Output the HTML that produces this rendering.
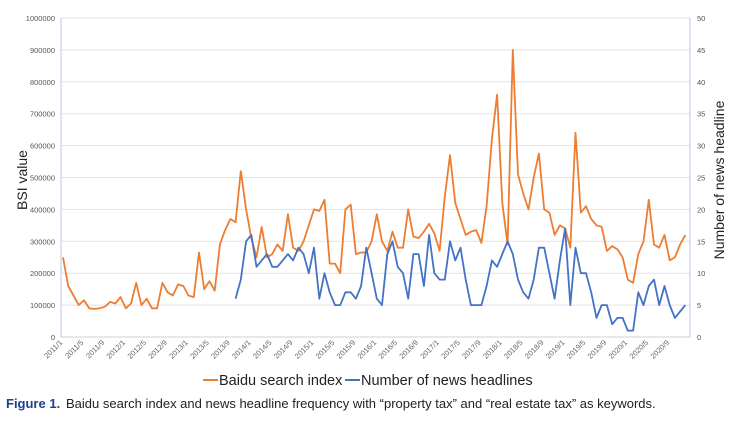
<!DOCTYPE html>
<html><head><meta charset="utf-8"><style>
body{margin:0;background:#fff;}
svg text{font-family:"Liberation Sans",sans-serif;}
</style></head><body>
<svg id="s" width="736" height="419" xmlns="http://www.w3.org/2000/svg">
<g id="grid"></g>
<text x="27" y="180" font-size="14" fill="#222" transform="rotate(-90 27 180)" text-anchor="middle">BSI value</text>
<text x="724" y="180" font-size="14" fill="#222" transform="rotate(-90 724 180)" text-anchor="middle">Number of news headline</text>
<line x1="61" y1="18" x2="61" y2="337" stroke="#b4c7e7" stroke-width="1"/>
<line x1="690" y1="18" x2="690" y2="337" stroke="#b4c7e7" stroke-width="1"/>
<g id="lines"></g>
<line x1="203" y1="380" x2="218" y2="380" stroke="#ed7d31" stroke-width="2"/>
<text x="219" y="385" font-size="14.5" fill="#222">Baidu search index</text>
<line x1="345" y1="380" x2="360" y2="380" stroke="#4472c4" stroke-width="2"/>
<text x="361" y="385" font-size="14.5" fill="#222">Number of news headlines</text>
<text x="6" y="408" font-size="13" fill="#1f3f8f" font-weight="bold">Figure 1.</text>
<text x="66" y="408" font-size="13" fill="#222">Baidu search index and news headline frequency with “property tax” and “real estate tax” as keywords.</text>
</svg>
<script>
var NS="http://www.w3.org/2000/svg",g=document.getElementById("grid"),L=document.getElementById("lines");
function el(t,a,p){var e=document.createElementNS(NS,t);for(var k in a)e.setAttribute(k,a[k]);p.appendChild(e);return e;}
for(var i=0;i<=10;i++){var y=337-i*31.9;
 if(i>0)el("line",{x1:61,x2:690,y1:y,y2:y,stroke:"#e3e3e3","stroke-width":1},g);
 else el("line",{x1:61,x2:690,y1:y,y2:y,stroke:"#d0d0d0","stroke-width":1},g);
 var t=el("text",{x:55,y:y+3,"font-size":7.5,fill:"#555","text-anchor":"end","font-family":"Liberation Serif"},g);t.textContent=i*100000;
 var t2=el("text",{x:697,y:y+3,"font-size":7.5,fill:"#555"},g);t2.textContent=i*5;}
function X(i){return 63+5.23*i;}
for(var m=0;m<120;m+=4){var yr=2011+Math.floor(m/12),mo=m%12+1,x=X(m);
 var t=el("text",{x:x,y:343,"font-size":7.5,fill:"#666","text-anchor":"end",transform:"rotate(-45 "+x+" 343)"},g);t.textContent=yr+"/"+mo;}
var O=[250,160,130,100,115,90,88,90,95,110,105,125,90,105,170,100,120,90,90,170,140,130,165,160,130,125,265,150,175,145,290,335,370,360,520,400,310,250,345,250,260,290,270,385,280,270,300,350,400,395,430,230,230,200,400,415,260,265,265,300,385,300,270,330,280,280,400,315,310,330,355,325,270,440,570,420,370,320,330,335,295,410,620,760,420,290,900,510,450,400,500,575,400,390,320,350,340,280,640,390,410,370,350,345,270,285,275,250,180,170,260,300,430,290,280,320,240,250,290,320];
var B=[6,9,15,16,11,12,13,11,11,12,13,12,14,13,10,14,6,10,7,5,5,7,7,6,8,14,10,6,5,13,15,11,10,6,13,13,8,16,10,9,9,15,12,14,9,5,5,5,8,12,11,13,15,13,9,7,6,9,14,14,10,6,12,17,5,14,10,10,7,3,5,5,2,3,3,1,1,7,5,8,9,5,8,5,3,4,5];
var p=O.map(function(v,i){return X(i).toFixed(1)+","+(337-v*0.319).toFixed(1)}).join(" ");
el("polyline",{points:p,fill:"none",stroke:"#ed7d31","stroke-width":1.8,"stroke-linejoin":"round"},L);
var q=B.map(function(v,i){return X(i+33).toFixed(1)+","+(337-v*6.38).toFixed(1)}).join(" ");
el("polyline",{points:q,fill:"none",stroke:"#4472c4","stroke-width":1.8,"stroke-linejoin":"round"},L);
</script>
</body></html>
